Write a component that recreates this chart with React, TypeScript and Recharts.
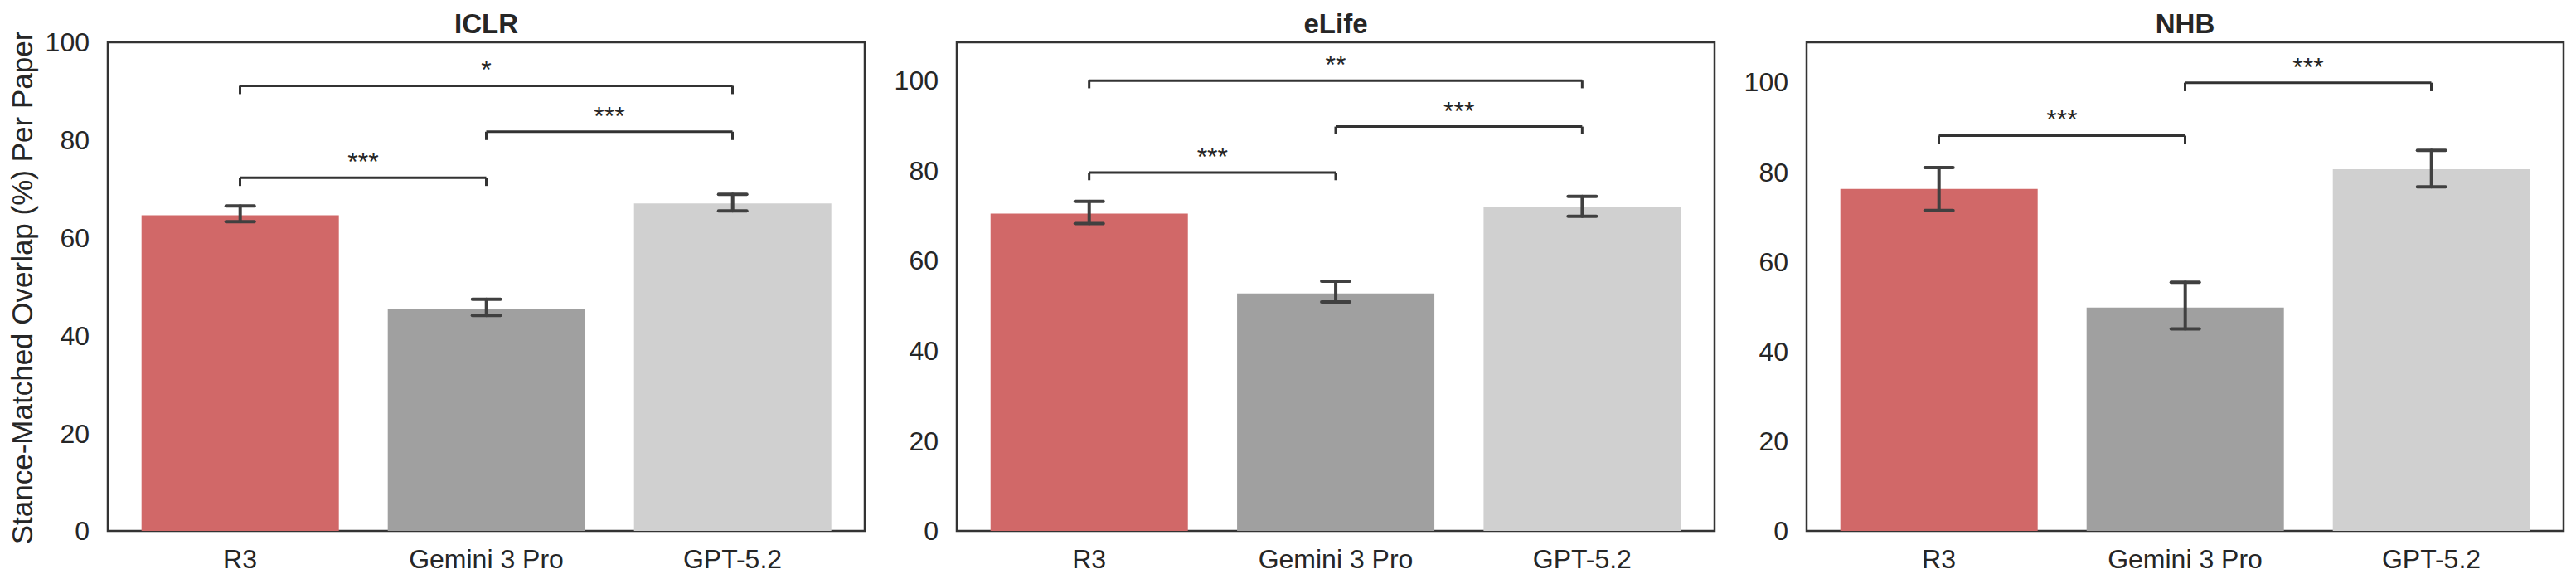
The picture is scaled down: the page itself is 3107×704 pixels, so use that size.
import React from 'react';
import { BarChart, Bar, XAxis, YAxis, Cell, ErrorBar, ReferenceLine, ReferenceArea } from 'recharts';

const models = ['R3', 'Gemini 3 Pro', 'GPT-5.2'];
const barColors = ['#d16868', '#a0a0a0', '#d0d0d0'];
const yTicks = [0, 20, 40, 60, 80, 100];

// ICLR
const iclrMean = [64.6, 45.5, 67.0];
const iclrLow = [63.3, 44.1, 65.5];
const iclrHigh = [66.5, 47.4, 68.9];
const iclrPairs = [[0, 1], [1, 2], [0, 2]];
const iclrBracketY = [72.3, 81.7, 91.1];
const iclrStars = ['***', '***', '*'];

// eLife
const elifeMean = [70.4, 52.7, 71.9];
const elifeLow = [68.2, 50.8, 69.8];
const elifeHigh = [73.1, 55.4, 74.2];
const elifePairs = [[0, 1], [1, 2], [0, 2]];
const elifeBracketY = [79.5, 89.7, 99.9];
const elifeStars = ['***', '***', '**'];

// NHB
const nhbMean = [76.2, 49.8, 80.6];
const nhbLow = [71.4, 45.0, 76.7];
const nhbHigh = [81.0, 55.4, 84.8];
const nhbPairs = [[0, 1], [1, 2]];
const nhbBracketY = [88.1, 99.9];
const nhbStars = ['***', '***'];

const FONT = '"Liberation Sans", Arial, Helvetica, sans-serif';
const INK = '#262626';
const FRAME = '#333333';
const Y_AXIS_W = 130;

type PanelProps = {
  left: number;
  plotWidth: number;
  yMax: number;
  drop: number;
  mean: number[];
  low: number[];
  high: number[];
  pairs: number[][];
  bracketY: number[];
  stars: string[];
};

const Panel = ({ left, plotWidth, yMax, drop, mean, low, high, pairs, bracketY, stars }: PanelProps) => {
  const rows = models.map((m, i) => ({
    name: m,
    mean: mean[i],
    err: [mean[i] - low[i], high[i] - mean[i]],
  }));

  return (
    <div style={{ position: 'absolute', left: left - Y_AXIS_W, top: 0 }}>
      <BarChart
        width={Y_AXIS_W + plotWidth + 10}
        height={704}
        data={rows}
        margin={{ top: 51, right: 10, bottom: 0, left: 0 }}
        barCategoryGap="10%"
      >
        <XAxis
          dataKey="name"
          height={64}
          padding={{ left: 11, right: 11 }}
          tickLine={false}
          tickSize={0}
          tickMargin={22}
          axisLine={false}
          tick={{ fontSize: 32, fill: INK }}
        />
        {/* hidden linear axis with no padding, so the frame spans the whole plot */}
        <XAxis xAxisId="frame" type="number" hide />
        <YAxis
          type="number"
          domain={[0, yMax]}
          ticks={yTicks}
          width={Y_AXIS_W}
          tickLine={false}
          tickSize={0}
          tickMargin={22}
          axisLine={false}
          tick={{ fontSize: 32, fill: INK }}
          allowDataOverflow
        />
        <Bar dataKey="mean" isAnimationActive={false}>
          {rows.map((r, i) => (
            <Cell key={r.name} fill={barColors[i]} />
          ))}
          <ErrorBar
            dataKey="err"
            direction="y"
            width={17}
            stroke="#404040"
            strokeWidth={4}
            strokeLinecap="round"
          />
        </Bar>
        {pairs.map(([a, b], k) => (
          <ReferenceLine
            key={`h${k}`}
            segment={[
              { x: models[a], y: bracketY[k] },
              { x: models[b], y: bracketY[k] },
            ]}
            stroke={FRAME}
            strokeWidth={3}
            label={{ value: stars[k], position: 'top', offset: 8, fontSize: 32, fill: INK }}
          />
        ))}
        {pairs.map(([a, b], k) =>
          [a, b].map((c) => (
            <ReferenceLine
              key={`v${k}-${c}`}
              segment={[
                { x: models[c], y: bracketY[k] },
                { x: models[c], y: bracketY[k] - drop },
              ]}
              stroke={FRAME}
              strokeWidth={3}
            />
          ))
        )}
        <ReferenceArea
          xAxisId="frame"
          y1={0}
          y2={yMax}
          fill="none"
          fillOpacity={0}
          stroke={FRAME}
          strokeWidth={2.5}
          strokeOpacity={1}
        />
      </BarChart>
    </div>
  );
};

export default function App() {
  return (
    <div
      style={{
        position: 'absolute',
        left: 0,
        top: 0,
        width: 3107,
        height: 704,
        background: '#fff',
        fontFamily: FONT,
        overflow: 'hidden',
      }}
    >
      <Panel left={130} plotWidth={913} yMax={100} drop={1.7}
        mean={iclrMean} low={iclrLow} high={iclrHigh}
        pairs={iclrPairs} bracketY={iclrBracketY} stars={iclrStars} />
      <Panel left={1154} plotWidth={914} yMax={108.4} drop={1.7}
        mean={elifeMean} low={elifeLow} high={elifeHigh}
        pairs={elifePairs} bracketY={elifeBracketY} stars={elifeStars} />
      <Panel left={2179} plotWidth={913} yMax={108.9} drop={1.9}
        mean={nhbMean} low={nhbLow} high={nhbHigh}
        pairs={nhbPairs} bracketY={nhbBracketY} stars={nhbStars} />
      <svg width={3107} height={704} style={{ position: 'absolute', left: 0, top: 0, pointerEvents: 'none' }}>
        <text x={586.5} y={39.5} textAnchor="middle" fontSize={33} fontWeight="bold" fill={INK} fontFamily={FONT}>ICLR</text>
        <text x={1611} y={39.5} textAnchor="middle" fontSize={33} fontWeight="bold" fill={INK} fontFamily={FONT}>eLife</text>
        <text x={2635.5} y={39.5} textAnchor="middle" fontSize={33} fontWeight="bold" fill={INK} fontFamily={FONT}>NHB</text>
        <text transform="translate(39, 347) rotate(-90)" textAnchor="middle" fontSize={35} fill={INK} fontFamily={FONT}>
          Stance-Matched Overlap (%) Per Paper
        </text>
      </svg>
    </div>
  );
}
